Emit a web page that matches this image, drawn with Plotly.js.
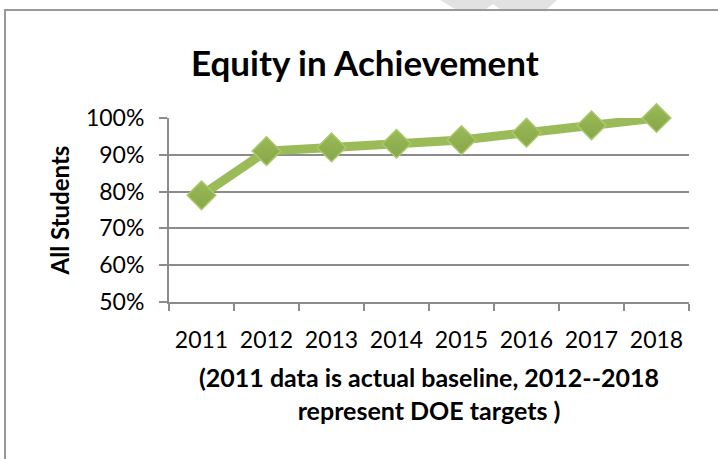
<!DOCTYPE html>
<html>
<head>
<meta charset="utf-8">
<script src="https://cdn.plot.ly/plotly-3.0.1.min.js"></script>
<style>
html,body{margin:0;padding:0;background:#fff;}
#chart{width:718px;height:459px;}
</style>
</head>
<body>
<div id="chart"></div>
<script>
const years = ["2011","2012","2013","2014","2015","2016","2017","2018"];
const allStudents = [79, 91, 92, 93, 94, 96, 98, 100];
const yTickVals = [50, 60, 70, 80, 90, 100];
const yTickText = ["50%","60%","70%","80%","90%","100%"];

const FONT = "Lato, 'Open Sans', sans-serif";
const L = 169, R = 29, T = 118, B = 157;
const W = 718, H = 459;
const pw = W - L - R, ph = H - T - B;
const px = v => (v - L) / pw;
const py = v => (H - B - v) / ph;
const pathOf = pts => pts.map((p, i) => (i ? "L" : "M") + px(p[0]).toFixed(4) + "," + py(p[1]).toFixed(4)).join(" ") + " Z";

const trace = {
  x: years,
  y: allStudents,
  type: "scatter",
  mode: "lines+markers",
  line: {color: "#9BBB59", width: 9},
  marker: {
    symbol: "diamond",
    size: 22,
    color: "#9BBB59",
    gradient: {type: "vertical", color: "#86a648"},
    line: {color: "#a9c86a", width: 1.5}
  },
  hoverinfo: "x+y",
  cliponaxis: false
};

const layout = {
  width: W, height: H,
  margin: {l: L, r: R, t: T, b: B},
  paper_bgcolor: "#fff",
  plot_bgcolor: "#fff",
  showlegend: false,
  font: {family: FONT, color: "#000"},
  xaxis: {
    type: "category",
    range: [-0.5, 7.5],
    tickson: "boundaries",
    ticks: "outside",
    ticklen: 7,
    tickwidth: 2,
    tickcolor: "#8c8c8c",
    showline: true,
    linecolor: "#8c8c8c",
    linewidth: 2,
    showgrid: false,
    zeroline: false,
    tickfont: {size: 23, family: FONT, color: "#000"},
    ticklabelstandoff: 16,
    title: {
      text: "<b>(2011 data is actual baseline, 2012--2018<br>represent DOE targets )</b>",
      font: {size: 25, family: FONT, color: "#000"},
      standoff: 18
    }
  },
  yaxis: {
    range: [50, 100],
    tickvals: yTickVals,
    ticktext: yTickText,
    ticks: "outside",
    ticklen: 8,
    tickwidth: 2,
    tickcolor: "#8c8c8c",
    showline: true,
    linecolor: "#8c8c8c",
    linewidth: 2,
    showgrid: true,
    gridcolor: "#8c8c8c",
    gridwidth: 2,
    zeroline: false,
    tickfont: {size: 23, family: FONT, color: "#000"},
    ticklabelstandoff: 10,
    title: {
      text: "<b>All Students</b>",
      font: {size: 24, family: FONT, color: "#000"},
      standoff: 10
    }
  },
  annotations: [{
    text: "<b>Equity in Achievement</b>",
    xref: "paper", yref: "paper",
    x: px(365), y: py(62),
    xanchor: "center", yanchor: "middle",
    showarrow: false,
    font: {size: 35, family: FONT, color: "#000"}
  }],
  shapes: [
    {type: "path", xref: "paper", yref: "paper", layer: "below",
     path: pathOf([[440,0],[557,0],[547,9],[500,9],[493,4],[486,9],[455,9]]),
     fillcolor: "#e2e2e2", line: {width: 0}},
    {type: "line", xref: "paper", yref: "paper", x0: px(5), x1: px(720), y0: py(10), y1: py(10), line: {color: "#999", width: 2}},
    {type: "line", xref: "paper", yref: "paper", x0: px(5), x1: px(5), y0: py(9), y1: py(462), line: {color: "#999", width: 2}}
  ]
};

Plotly.newPlot("chart", [trace], layout, {displayModeBar: false, staticPlot: true});
</script>
</body>
</html>
